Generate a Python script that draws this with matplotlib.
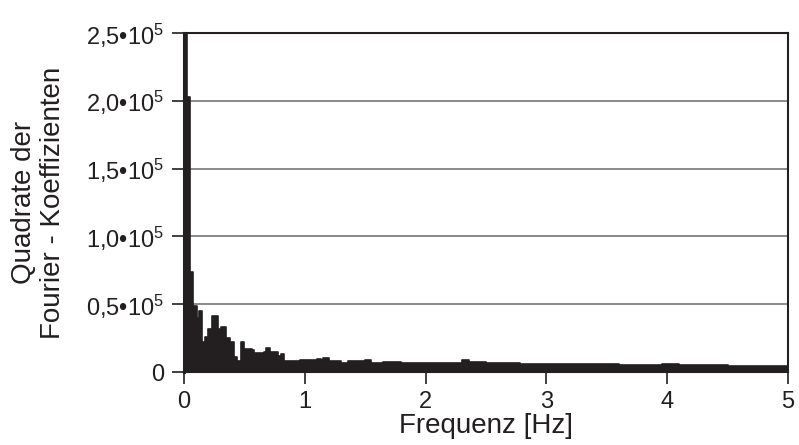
import numpy as np
import matplotlib
matplotlib.use("Agg")
import matplotlib.pyplot as plt

plt.rcParams["font.family"] = ["Liberation Sans", "DejaVu Sans"]
plt.rcParams["mathtext.fontset"] = "custom"
plt.rcParams["mathtext.rm"] = "Liberation Sans"
plt.rcParams["mathtext.it"] = "Liberation Sans:italic"
plt.rcParams["mathtext.bf"] = "Liberation Sans:bold"
plt.rcParams["mathtext.default"] = "regular"

# Spektrum (Hüllkurve) - Frequenz in Hz, Werte in 1e5
freq_hz = [0.000, 0.025, 0.047, 0.078, 0.085, 0.110, 0.120, 0.152, 0.170, 0.200,
           0.235, 0.280, 0.310, 0.350, 0.380, 0.410, 0.440, 0.475, 0.500, 0.560,
           0.580, 0.660, 0.680, 0.710, 0.780, 0.800, 0.830, 0.960, 1.100, 1.130,
           1.150, 1.200, 1.300, 1.360, 1.500, 1.550, 1.650, 1.800, 2.000, 2.300,
           2.360, 2.500, 2.780, 3.000, 3.300, 3.600, 3.960, 4.100, 4.500, 5.000]
power_1e5 = [2.55, 2.03, 0.74, 0.33, 0.49, 0.40, 0.45, 0.22, 0.26, 0.32,
             0.41, 0.32, 0.33, 0.25, 0.22, 0.11, 0.083, 0.22, 0.167, 0.16,
             0.14, 0.145, 0.18, 0.145, 0.118, 0.135, 0.083, 0.085, 0.098, 0.085,
             0.105, 0.083, 0.064, 0.079, 0.085, 0.070, 0.072, 0.066, 0.064, 0.088,
             0.071, 0.068, 0.060, 0.058, 0.057, 0.055, 0.058, 0.050, 0.046, 0.046]

x_ticks = [0, 1, 2, 3, 4, 5]
y_ticks = [0, 0.5e5, 1.0e5, 1.5e5, 2.0e5, 2.5e5]
y_ticklabels = ["0", "0,5•10$^{5}$", "1,0•10$^{5}$", "1,5•10$^{5}$",
                "2,0•10$^{5}$", "2,5•10$^{5}$"]

freq = np.array(freq_hz)
power = np.array(power_1e5) * 1e5

fig = plt.figure(figsize=(7.99, 4.45), dpi=100)
ax = fig.add_axes([0.2303, 0.164, 0.7559, 0.7618])

black = "#231f20"
ax.fill_between(freq, 0, power, step="post", color=black, linewidth=0)
ax.step(freq, power, where="post", color=black, linewidth=1.2)

ax.set_xlim(0, 5)
ax.set_ylim(0, 2.5e5)
ax.set_xticks(x_ticks)
ax.set_xticklabels([str(t) for t in x_ticks])
ax.set_yticks(y_ticks)
ax.set_yticklabels(y_ticklabels)

ax.yaxis.grid(True, color="#8a8a8a", linewidth=1.4)
ax.set_axisbelow(True)

for side in ["left", "right", "top", "bottom"]:
    ax.spines[side].set_color(black)
    ax.spines[side].set_linewidth(1.5)
ax.spines["left"].set_linewidth(2.2)

ax.tick_params(axis="both", direction="out", length=8.5, width=1.2, color=black,
               labelsize=17, labelcolor=black)
ax.tick_params(axis="x", pad=5)
ax.tick_params(axis="y", pad=6)

ax.set_xlabel("Frequenz [Hz]", fontsize=20, color=black, labelpad=0)
fig.text(0.0476, 0.545, "Quadrate der\nFourier - Koeffizienten", rotation=90,
         ha="center", va="center", fontsize=20, color=black,
         multialignment="center", linespacing=1.15)

fig.savefig("out.png", dpi=100)
